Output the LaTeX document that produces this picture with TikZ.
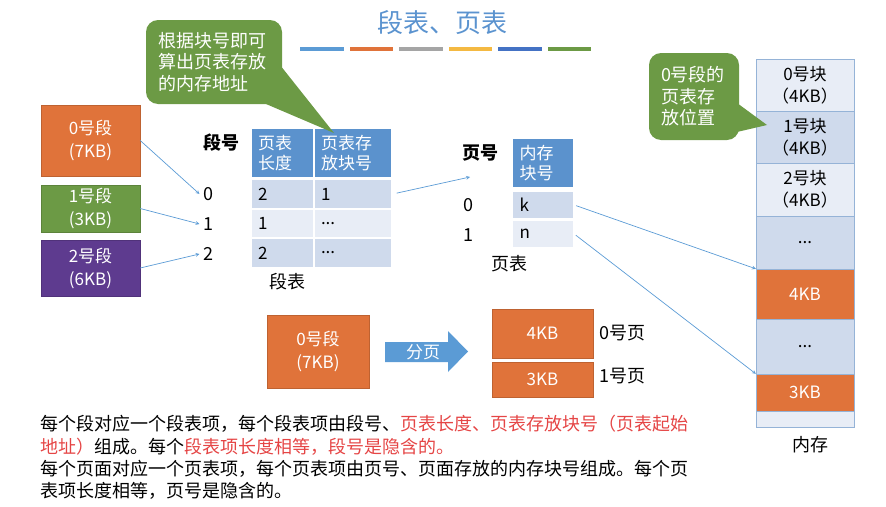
\documentclass[tikz,border=0pt]{standalone}
\usepackage{fontspec}
\setmainfont{Noto Sans CJK SC}
\usepackage{tikz}

\definecolor{titleblue}{HTML}{5B93CF}
\definecolor{headblue}{HTML}{5B92CD}
\definecolor{rowdark}{HTML}{CFDAEC}
\definecolor{rowlight}{HTML}{E8EDF6}
\definecolor{segorange}{HTML}{E0733A}
\definecolor{seggreen}{HTML}{6C9A45}
\definecolor{segpurple}{HTML}{5E3B8F}
\definecolor{memline}{HTML}{95B3D7}
\definecolor{linkblue}{HTML}{5B9BD5}
\definecolor{hlred}{HTML}{E54545}
\definecolor{barblue}{HTML}{5B9BD5}
\definecolor{barorange}{HTML}{E0733A}
\definecolor{bargray}{HTML}{A5A5A5}
\definecolor{baryellow}{HTML}{F4B942}
\definecolor{bardarkblue}{HTML}{4472C4}
\definecolor{bargreen}{HTML}{6C9A45}

\begin{document}
\begin{tikzpicture}[x=1pt,y=-1pt,
        seg/.style={
          draw=#1!85!black, fill=#1, text=white, minimum width=99pt,
          align=center, font=\fontsize{17}{23}\selectfont
        },
        hcell/.style={
          draw=white, line width=1.5pt, fill=headblue, text=white,
          minimum height=50pt, inner xsep=7pt, align=left,
          font=\fontsize{17}{20}\selectfont
        },
        cell/.style={
          draw=white, line width=1.5pt, fill=#1, minimum height=29pt,
          inner xsep=7pt, align=left, font=\fontsize{17}{20}\selectfont
        },
        col1/.style={text width=49pt},
        col2/.style={text width=64pt},
        pcol/.style={text width=47pt},
        mem/.style={
          draw=memline, fill=#1, minimum width=98pt, align=center,
          font=\fontsize{17}{22}\selectfont
        },
        callout/.style={
          fill=seggreen, text=white, rounded corners=12pt, align=left,
          inner xsep=12pt, font=\fontsize{18}{21.5}\selectfont
        },
        label/.style={font=\fontsize{18}{22}\selectfont},
        note/.style={anchor=west, inner sep=0pt, font=\fontsize{18}{22}\selectfont},
        link/.style={color=linkblue, line width=0.7pt, -stealth}
      ]
      \useasboundingbox (0,0) rectangle (886,506);

      % title
      \node [text=titleblue, font=\fontsize{26}{30}\selectfont] (title) at (442,23) {段表、页表};
      \foreach \c [count=\i from 0] in {barblue,barorange,bargray,baryellow,bardarkblue,bargreen}
        \fill [\c] ({300+49.5*\i},47) rectangle +(43.5,4);

      % segments
      \node [seg=segorange, minimum height=71pt] (seg0) at (90.5,140.5) {0号段\\(7KB)};
      \node [seg=seggreen, minimum height=41pt] (seg1) at (90.5,208.5) {1号段\\(3KB)};
      \node [seg=segpurple, minimum height=56pt] (seg2) at (90.5,268) {2号段\\(6KB)};

      % segment table
      \node [label, font=\fontsize{18}{22}\selectfont\bfseries] (segno) at (221,143) {段号};
      \node [label] (s0) at (208,194) {0};
      \node [label] (s1) at (208,224) {1};
      \node [label] (s2) at (208,254) {2};
      \node [hcell, col1] (sh1) at (282.5,153) {页表\\长度};
      \node [hcell, col2] (sh2) at (353,153) {页表存\\放块号};
      \node [cell=rowdark, col1] (r0a) at (282.5,194) {2};
      \node [cell=rowdark, col2] (r0b) at (353,194) {1};
      \node [cell=rowlight, col1] (r1a) at (282.5,223.5) {1};
      \node [cell=rowlight, col2] (r1b) at (353,223.5) {...};
      \node [cell=rowdark, col1] (r2a) at (282.5,253) {2};
      \node [cell=rowdark, col2] (r2b) at (353,253) {...};
      \node [label] (segtab) at (287,282) {段表};

      \draw [link] (seg0.east) -- (s0.west);
      \draw [link] (seg1.east) -- (s1.west);
      \draw [link] (seg2.east) -- (s2.west);

      % page table
      \node [label, font=\fontsize{18}{22}\selectfont\bfseries] (pageno) at (480,153) {页号};
      \node [label] (p0) at (468,205) {0};
      \node [label] (p1) at (468,235) {1};
      \node [hcell, pcol] (ph) at (543,163) {内存\\块号};
      \node [cell=rowdark, pcol, minimum height=28pt] (pk) at (543,205) {k};
      \node [cell=rowlight, pcol, minimum height=28pt] (pn) at (543,234) {n};
      \node [label] (pagetab) at (509,264) {页表};
      \coordinate (pin) at (470,177);
      \draw [link, shorten <=4pt] (r0b.east) -- (pin);

      % memory
      \node [mem=rowlight, minimum height=52pt] (m0) at (805,85) {0号块\\（4KB）};
      \node [mem=rowdark, minimum height=52pt] (m1) at (805,137) {1号块\\（4KB）};
      \node [mem=rowlight, minimum height=53pt] (m2) at (805,189.5) {2号块\\（4KB）};
      \node [mem=rowdark, minimum height=53pt] (m3) at (805,242.5) {...};
      \node [mem=segorange, text=white, minimum height=50pt] (m4) at (805,294) {4KB};
      \node [mem=rowdark, minimum height=55pt] (m5) at (805,346.5) {...};
      \node [mem=segorange, text=white, minimum height=37pt] (m6) at (805,392.5) {3KB};
      \node [mem=rowlight, minimum height=16pt] (m7) at (805,419) {};
      \node [label] (memlabel) at (810,445) {内存};

      \draw [link, shorten <=2pt] (pk.east) -- (m4.north west);
      \draw [link, shorten <=2pt] (pn.east) -- (m6.north west);

      % callouts
      \fill [seggreen] (280,65) -- (334,133) -- (266,104) -- cycle;
      \node [callout, minimum height=84pt, text width=112pt] (hint1) at (214,62) {根据块号即可\\算出页表存放\\的内存地址};
      \fill [seggreen] (737,103) -- (767,125) -- (737,132) -- cycle;
      \node [callout, minimum height=87pt, text width=66pt] (hint2) at (694,96.5) {0号段的\\页表存\\放位置};

      % paging of segment 0
      \node [seg=segorange, minimum width=102pt, minimum height=73pt] (big0) at (318,351.5) {0号段\\(7KB)};
      \fill [linkblue] (385,342) -- (448,342) -- (448,331) -- (468,351.5) -- (448,372) -- (448,362) -- (385,362) -- cycle;
      \node [text=white, font=\fontsize{17}{20}\selectfont] (split) at (423,352) {分页};
      \node [seg=segorange, minimum width=101pt, minimum height=49pt] (pg0) at (542.5,333.5) {4KB};
      \node [seg=segorange, minimum width=101pt, minimum height=35pt] (pg1) at (542.5,379.5) {3KB};
      \node [label] (pg0lab) at (622,333) {0号页};
      \node [label] (pg1lab) at (622,376) {1号页};

      % notes
      \node [note] (note1) at (40,424) {每个段对应一个段表项，每个段表项由段号、\textcolor{hlred}{页表长度、页表存放块号（页表起始}};
      \node [note] (note2) at (40,447) {\textcolor{hlred}{地址）}组成。每个\textcolor{hlred}{段表项长度相等，段号是隐含的。}};
      \node [note] (note3) at (40,469) {每个页面对应一个页表项，每个页表项由页号、页面存放的内存块号组成。每个页};
      \node [note] (note4) at (40,491) {表项长度相等，页号是隐含的。};
    \end{tikzpicture}
\end{document}
